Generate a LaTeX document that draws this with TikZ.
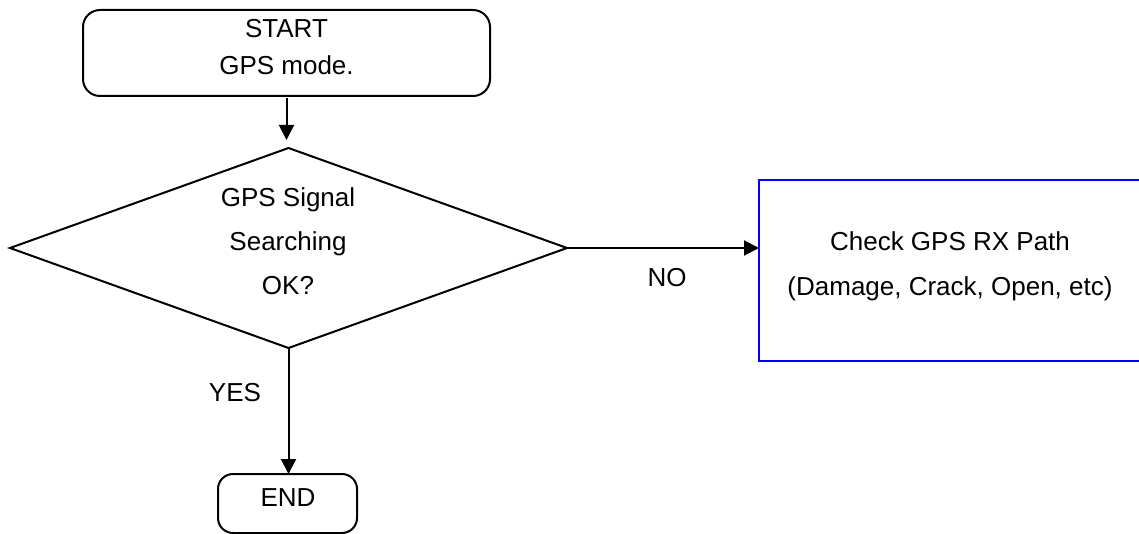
\documentclass[tikz,border=0pt]{standalone}
\usepackage{fontspec}
\setmainfont{Liberation Sans}
\usetikzlibrary{shapes.geometric,arrows.meta}
\begin{document}
\begin{tikzpicture}[x=1pt,y=-1pt,
  box/.style={draw=black, line width=2pt, inner sep=0pt, outer sep=0pt},
  roundbox/.style={box, rounded corners=17pt},
  decision/.style={box, diamond, aspect=2.785},
  checkbox/.style={draw=blue, line width=2.6pt, inner sep=0pt, outer sep=0pt},
  txt/.style={align=center, inner sep=0pt, font=\fontsize{26}{44}\selectfont},
  flow/.style={draw=black, line width=2pt, -{Triangle[length=15pt,width=15pt]}},
]
\useasboundingbox (0,0) rectangle (1139,534);
% shapes
\node[roundbox, minimum width=407pt, minimum height=86pt] (start) at (286.5,53) {};
\node[txt, font=\fontsize{26}{37}\selectfont] (starttext) at (286.5,47) {START\\GPS mode.};
\node[decision, minimum width=557pt, minimum height=200pt] (dec) at (288.5,248) {};
\node[txt] (dectext) at (288,241.5) {GPS Signal\\Searching\\OK?};
\node[checkbox, minimum width=401pt, minimum height=181pt] (check) at (959.5,270.5) {};
\node[txt, font=\fontsize{26}{45}\selectfont] (checktext) at (950,266) {Check GPS RX Path\\(Damage, Crack, Open, etc)};
\node[roundbox, rounded corners=15pt, minimum width=139pt, minimum height=59pt] (end) at (287.5,503.5) {};
\node[txt] (endtext) at (288,498) {END};
% connectors
\draw[flow, shorten <=2pt, shorten >=8pt] (start.south) -- (start.south |- dec.north);
\draw[flow] (dec.south) -- (dec.south |- end.north);
\draw[flow] (dec.east) -- (dec.east -| check.west);
% labels
\node[txt] (yes) at (235,393) {YES};
\node[txt] (no) at (667,277.5) {NO};
\end{tikzpicture}
\end{document}
